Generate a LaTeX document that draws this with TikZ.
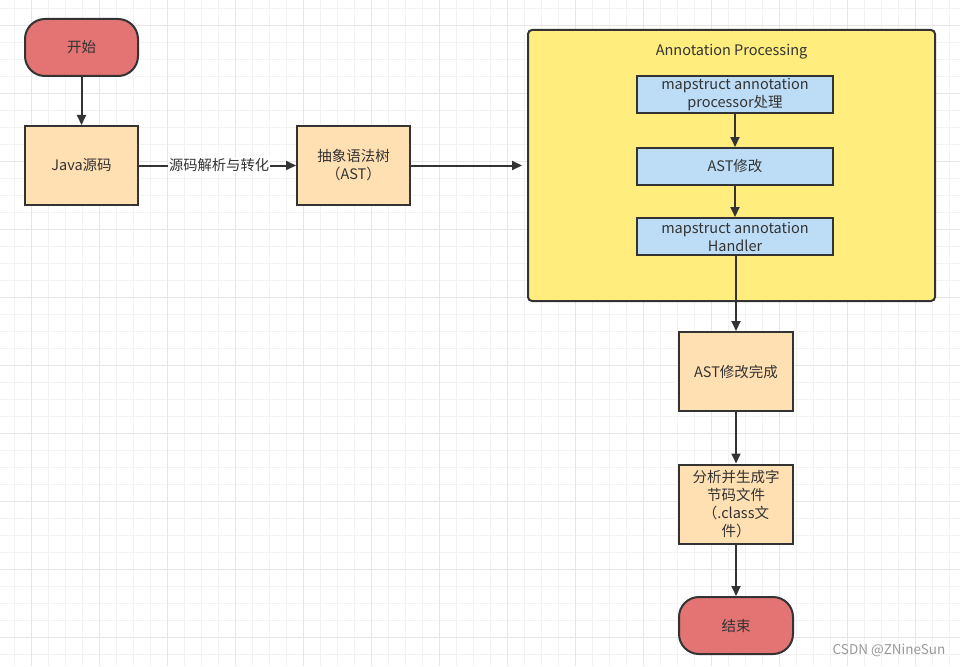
\documentclass[tikz,border=0pt]{standalone}
\usepackage{fontspec}
\setmainfont{Noto Sans CJK SC}
\usetikzlibrary{arrows.meta}
\definecolor{redfill}{HTML}{E37473}
\definecolor{orangefill}{HTML}{FFE0B3}
\definecolor{yellowfill}{HTML}{FFED7D}
\definecolor{bluefill}{HTML}{BDDDF7}
\definecolor{edgecol}{HTML}{333333}
\definecolor{gridminor}{HTML}{F2F2F2}
\definecolor{gridmajor}{HTML}{E6E6E6}
\tikzset{
  base/.style={draw=edgecol, line width=2pt, inner sep=0pt, align=center, text=edgecol, font=\fontsize{14.5}{18}\selectfont},
  termbox/.style={base, fill=redfill, rounded corners=20pt, minimum width=113pt, minimum height=57pt},
  procbox/.style={base, fill=orangefill, minimum width=113pt, minimum height=79pt},
  bluebox/.style={base, fill=bluefill, minimum width=196pt, minimum height=37pt},
  groupbox/.style={draw=edgecol, line width=2pt, fill=yellowfill, rounded corners=4pt, inner sep=0pt, minimum width=407pt, minimum height=271pt},
  conn/.style={draw=edgecol, line width=2pt, -{Triangle[length=10pt,width=9pt]}},
  plainline/.style={draw=edgecol, line width=2pt}
}
\begin{document}
\begin{tikzpicture}[x=1pt,y=-1pt]
\useasboundingbox (0,0) rectangle (960,666);
\fill[white] (0,0) rectangle (960,666);
% grid
\foreach \i in {0,...,56} \draw[gridminor, line width=1pt] ({14.7+17*\i},0) -- ({14.7+17*\i},666);
\foreach \j in {0,...,39} \draw[gridminor, line width=1pt] (0,{8.3+17*\j}) -- (960,{8.3+17*\j});
\foreach \i in {0,...,13} \draw[gridmajor, line width=1pt] ({31.7+68*\i},0) -- ({31.7+68*\i},666);
\foreach \j in {0,...,9} \draw[gridmajor, line width=1pt] (0,{25.3+68*\j}) -- (960,{25.3+68*\j});

% nodes
\node[termbox] (start) at (81.5,47.5) {开始};
\node[procbox] (java) at (81.5,165.5) {Java源码};
\node[procbox] (ast) at (353.5,165.5) {抽象语法树\\（AST）};
\node[groupbox] (group) at (731.5,165.5) {};
\node[text=edgecol, font=\fontsize{14.5}{18}\selectfont] (gtitle) at (731.5,51.5) {Annotation Processing};
\node[bluebox] (b1) at (735,95) {mapstruct annotation\\processor处理};
\node[bluebox] (b2) at (735,166.5) {AST修改};
\node[bluebox] (b3) at (735,236.5) {mapstruct annotation\\Handler};
\node[procbox, minimum width=114pt] (done) at (736,371.5) {AST修改完成};
\node[procbox, minimum width=114pt] (gen) at (736,504) {分析并生成字\\节码文件\\（.class文\\件）};
\node[termbox, minimum width=114pt] (stop) at (736,625.5) {结束};
\node[text=gray!80, font=\fontsize{13.5}{16}\selectfont] (wm) at (889,650) {CSDN @ZNineSun};

% connectors
\draw[conn] (start) -- (java);
\draw[conn] (java) -- node[pos=0.51, fill=white, inner sep=1pt, text=edgecol, font=\fontsize{14.3}{17}\selectfont] (lbl) {源码解析与转化} (ast);
\draw[conn, shorten >=5pt] (ast) -- (group);
\draw[conn] (b1) -- (b2);
\draw[conn] (b2) -- (b3);
\draw[conn] (b3.south -| done.north) -- (done);
\draw[conn] (done) -- (gen);
\draw[conn] (gen) -- (stop);
\end{tikzpicture}
\end{document}
